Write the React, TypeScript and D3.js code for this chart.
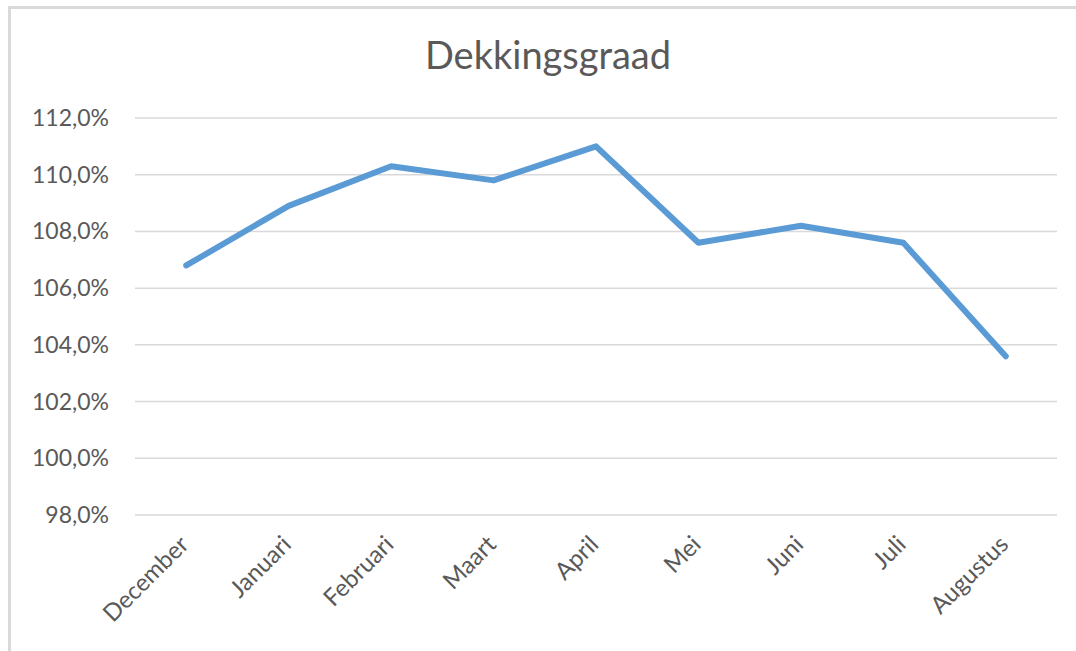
import React, { useEffect, useRef } from 'react';
import * as d3 from 'd3';

const months = ['December', 'Januari', 'Februari', 'Maart', 'April', 'Mei', 'Juni', 'Juli', 'Augustus'];
const dekkingsgraad = [106.8, 108.9, 110.3, 109.8, 111.0, 107.6, 108.2, 107.6, 103.6];
const yTicks = [98, 100, 102, 104, 106, 108, 110, 112];

const App = () => {
  const svgRef = useRef<SVGSVGElement | null>(null);

  useEffect(() => {
    const width = 1076;
    const height = 651;
    const margin = { top: 118, right: 19, bottom: 136, left: 135 };
    const font = 'Lato, "Open Sans", sans-serif';

    const svg = d3.select(svgRef.current);
    svg.selectAll('*').remove();

    // frame (top and left edge of the chart box)
    svg.append('path')
      .attr('d', `M9.5,${height} V7.5 H${width}`)
      .attr('fill', 'none')
      .attr('stroke', '#d9d9d9')
      .attr('stroke-width', 3);

    // title
    svg.append('text')
      .attr('x', 548)
      .attr('y', 69)
      .attr('text-anchor', 'middle')
      .attr('font-family', font)
      .attr('font-size', 38)
      .attr('fill', '#595959')
      .text('Dekkingsgraad');

    const xScale = d3.scaleBand()
      .domain(months)
      .range([margin.left, width - margin.right]);

    const yScale = d3.scaleLinear()
      .domain([98, 112])
      .range([height - margin.bottom, margin.top]);

    // gridlines
    svg.append('g')
      .selectAll('line')
      .data(yTicks)
      .enter()
      .append('line')
      .attr('x1', margin.left)
      .attr('x2', width - margin.right)
      .attr('y1', d => yScale(d))
      .attr('y2', d => yScale(d))
      .attr('stroke', '#d9d9d9')
      .attr('stroke-width', 1.5);

    // y labels
    svg.append('g')
      .selectAll('text')
      .data(yTicks)
      .enter()
      .append('text')
      .attr('x', 109)
      .attr('y', d => yScale(d) + 8)
      .attr('text-anchor', 'end')
      .attr('font-family', font)
      .attr('font-size', 23)
      .attr('fill', '#595959')
      .text(d => d.toFixed(1).replace('.', ',') + '%');

    // x labels, rotated
    svg.append('g')
      .selectAll('text')
      .data(months)
      .enter()
      .append('text')
      .attr('transform', d => `translate(${(xScale(d) ?? 0) + xScale.bandwidth() / 2 + 4},${height - margin.bottom + 31}) rotate(-45)`)
      .attr('text-anchor', 'end')
      .attr('font-family', font)
      .attr('font-size', 24)
      .attr('fill', '#595959')
      .text(d => d);

    // line
    const line = d3.line<number>()
      .x((_, i) => (xScale(months[i]) ?? 0) + xScale.bandwidth() / 2)
      .y(d => yScale(d));

    svg.append('path')
      .datum(dekkingsgraad)
      .attr('d', line)
      .attr('fill', 'none')
      .attr('stroke', '#5b9bd5')
      .attr('stroke-width', 6)
      .attr('stroke-linecap', 'round')
      .attr('stroke-linejoin', 'round');
  }, []);

  return (
    <svg
      ref={svgRef}
      width={1076}
      height={651}
      style={{ position: 'absolute', left: 0, top: 0, background: '#fff' }}
    ></svg>
  );
};

export default App;
